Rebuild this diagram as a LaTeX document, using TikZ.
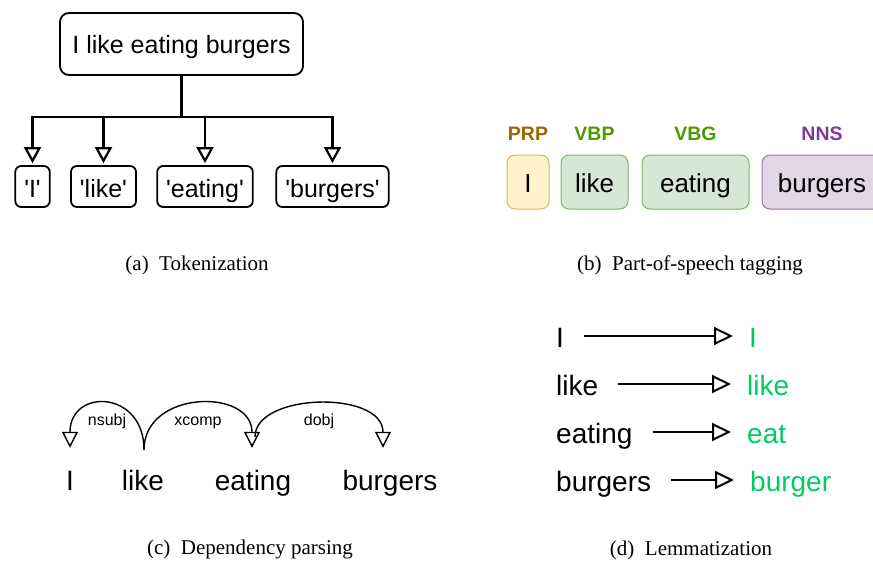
\documentclass[tikz,border=0pt]{standalone}
\usepackage{fontspec}
\setmainfont{Liberation Serif}
\setsansfont{Liberation Sans}
\usepackage{xcolor}
\usetikzlibrary{arrows.meta,positioning,calc}

\definecolor{prpcol}{HTML}{996600}
\definecolor{vbcol}{HTML}{4D9900}
\definecolor{nnscol}{HTML}{7F3A99}
\definecolor{yelfill}{HTML}{FFF2CC}
\definecolor{yeldraw}{HTML}{D6B656}
\definecolor{grnfill}{HTML}{D5E8D4}
\definecolor{grndraw}{HTML}{82B366}
\definecolor{purfill}{HTML}{E1D5E7}
\definecolor{purdraw}{HTML}{9673A6}
\definecolor{lemcol}{HTML}{00CC66}

\newcommand{\sq}{\textquotesingle}

\begin{document}
\begin{tikzpicture}[x=1pt,y=-1pt,>={Triangle[open,length=16pt,width=17pt]}]

    % Styles
    \tikzset{
        sentbox/.style={draw, rounded corners=9pt, line width=1.8pt, inner sep=0pt,
            minimum width=243pt, minimum height=62pt, text height=18pt, text depth=0pt,
            font=\sffamily\fontsize{25}{30}\selectfont},
        tokbox/.style={draw, rounded corners=6pt, line width=1.8pt, inner xsep=9pt, inner ysep=0pt,
            minimum height=41pt, text height=21pt, text depth=0pt,
            font=\sffamily\fontsize{25}{30}\selectfont},
        tree/.style={line width=2.2pt},
        tag/.style={inner sep=0pt, font=\sffamily\bfseries\fontsize{19.5}{23}\selectfont},
        posbox/.style={draw, rounded corners=8pt, line width=1pt, inner sep=0pt,
            minimum height=54pt, text height=20pt, text depth=0pt,
            font=\sffamily\fontsize{26}{31}\selectfont},
        depword/.style={anchor=base, inner sep=0pt, text height=20pt, text depth=0pt,
            font=\sffamily\fontsize{28}{34}\selectfont},
        deparc/.style={line width=1.4pt, >={Triangle[open,length=16pt,width=16pt]}},
        deplabel/.style={inner sep=0pt, text height=12pt, text depth=3pt,
            font=\sffamily\fontsize{16}{19}\selectfont},
        lemword/.style={anchor=west, inner sep=0pt, text height=22pt, text depth=0pt,
            font=\sffamily\fontsize{28}{34}\selectfont},
        lemarrow/.style={->, line width=2pt, shorten <=20pt, shorten >=16pt,
            >={Triangle[open,length=19pt,width=18pt]}},
        caption/.style={font=\rmfamily\fontsize{21}{25}\selectfont}
    }

    \useasboundingbox (0,0) rectangle (873,562);
    \clip (0,0) rectangle (873,562);

    % (a) Tokenization
    \node[sentbox] (sent) at (181.5,44) {I like eating burgers};
    \node[tokbox] (tI) at (32.5,186.5) {\sq I\sq};
    \node[tokbox] (tlike) at (103.5,186.5) {\sq like\sq};
    \node[tokbox] (teating) at (205,186.5) {\sq eating\sq};
    \node[tokbox] (tburgers) at (332.5,186.5) {\sq burgers\sq};

    \draw[tree] (sent.south) -- ++(0,41) coordinate (split);
    \foreach \t in {tI,tlike,teating,tburgers}
        \draw[tree,->,shorten >=2pt] (split) -| (\t.north);

    \node[caption] (capa) at (197,265) {(a)~~Tokenization};

    % (b) Part-of-speech tagging
    \node[posbox, fill=yelfill, draw=yeldraw, minimum width=42pt] (pI) at (528,182) {I};
    \node[posbox, fill=grnfill, draw=grndraw, minimum width=67pt] (plike) at (594.5,182) {like};
    \node[posbox, fill=grnfill, draw=grndraw, minimum width=107pt] (peating) at (695.5,182) {eating};
    \node[posbox, fill=purfill, draw=purdraw, minimum width=120pt] (pburgers) at (822,182) {burgers};

    \node[tag, text=prpcol, above=13.5pt of pI] (gI) {PRP};
    \node[tag, text=vbcol, above=13.5pt of plike] (glike) {VBP};
    \node[tag, text=vbcol, above=13.5pt of peating] (geating) {VBG};
    \node[tag, text=nnscol, above=13.5pt of pburgers] (gburgers) {NNS};

    \node[caption] (capb) at (690,265) {(b)~~Part-of-speech tagging};

    % (c) Dependency parsing
    \node[depword] (cI) at (70,490) {I};
    \node[depword] (clike) at (143,490) {like};
    \node[depword] (ceating) at (253,490) {eating};
    \node[depword] (cburgers) at (390,490) {burgers};

    \draw[deparc,->] ([xshift=1pt,yshift=20pt]clike.north)
        .. controls +(0,-60) and +(0,-60) .. ([yshift=22pt]cI.north)
        node[deplabel, midway, below=9pt] (lnsubj) {nsubj};
    \draw[deparc,->] ([xshift=1pt,yshift=20pt]clike.north)
        .. controls +(0,-60) and +(0,-60) .. ([xshift=-1pt,yshift=22pt]ceating.north)
        node[deplabel, midway, below=9pt] (lxcomp) {xcomp};
    \draw[deparc,->] ([xshift=2pt,yshift=33pt]ceating.north)
        .. controls +(0,-44) and +(0,-58) .. ([xshift=-7pt,yshift=22pt]cburgers.north)
        node[deplabel, midway, below=9pt] (ldobj) {dobj};

    \node[caption] (capc) at (250,549) {(c)~~Dependency parsing};

    % (d) Lemmatization
    \node[lemword] (wI) at (556,336) {I};
    \node[lemword] (wlike) at (556,384) {like};
    \node[lemword] (weating) at (556,432) {eating};
    \node[lemword] (wburgers) at (556,480) {burgers};

    \node[lemword, text=lemcol] (lI) at (749,336) {I};
    \node[lemword, text=lemcol] (llike) at (747,384) {like};
    \node[lemword, text=lemcol] (leating) at (747,432) {eat};
    \node[lemword, text=lemcol] (lburgers) at (750,480) {burger};

    \draw[lemarrow] (wI) -- (lI);
    \draw[lemarrow] (wlike) -- (llike);
    \draw[lemarrow] (weating) -- (leating);
    \draw[lemarrow] (wburgers) -- (lburgers);

    \node[caption] (capd) at (691,550) {(d)~~Lemmatization};

\end{tikzpicture}
\end{document}
